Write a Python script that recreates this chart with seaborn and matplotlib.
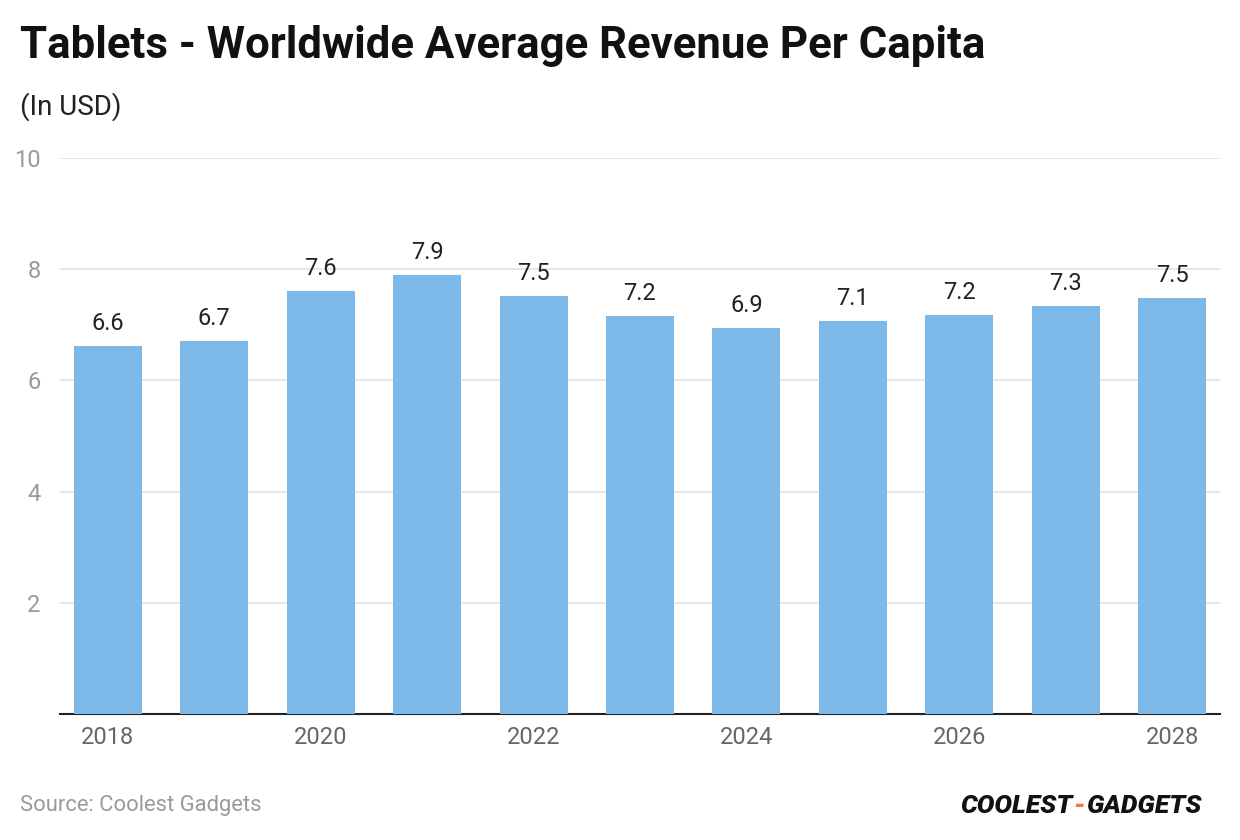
import matplotlib
matplotlib.use("Agg")
import matplotlib.pyplot as plt
import seaborn as sns
import pandas as pd

years = [2018, 2019, 2020, 2021, 2022, 2023, 2024, 2025, 2026, 2027, 2028]
values = [6.62, 6.71, 7.61, 7.90, 7.52, 7.16, 6.94, 7.07, 7.18, 7.34, 7.48]
labels = ["6.6", "6.7", "7.6", "7.9", "7.5", "7.2", "6.9", "7.1", "7.2", "7.3", "7.5"]
yticks = [2, 4, 6, 8, 10]

sns.set_theme(style="white")
plt.rcParams['font.family'] = ['Roboto', 'DejaVu Sans']

df = pd.DataFrame({"year": [str(y) for y in years], "value": values})

fig = plt.figure(figsize=(12.4, 8.4), dpi=100)
ax = fig.add_axes([60/1240, 1 - 714/840, 1160/1240, 556/840])

sns.barplot(data=df, x="year", y="value", color="#7db9e8", saturation=1,
            width=0.64, ax=ax, zorder=3, linewidth=0, edgecolor="none")

ax.set_ylim(0, 10)
ax.set_xlim(-0.45, len(years) - 0.55)
ax.set_yticks(yticks)
ax.set_yticklabels([str(t) for t in yticks])
ax.yaxis.grid(True, color="#e3e3e3", linewidth=1.2, zorder=0)
ax.set_axisbelow(True)
for s in ["top", "right", "left"]:
    ax.spines[s].set_visible(False)
ax.spines["bottom"].set_color("#222222")
ax.spines["bottom"].set_linewidth(1.5)
ax.tick_params(axis="y", length=0, pad=14, labelsize=17, labelcolor="#9a9a9a")
ax.tick_params(axis="x", length=0, pad=9, labelsize=17, labelcolor="#666666")
ax.set_xticks(range(len(years)))
ax.set_xticklabels([str(y) if i % 2 == 0 else "" for i, y in enumerate(years)])
ax.set_xlabel("")
ax.set_ylabel("")

for i, (v, lab) in enumerate(zip(values, labels)):
    ax.annotate(lab, (i, v), xytext=(0, 8), textcoords="offset points",
                ha="center", va="bottom", fontsize=17, color="#222222")

fig.text(20/1240, 1 - 46/840, "Tablets - Worldwide Average Revenue Per Capita",
         fontsize=31.5, fontweight="bold", color="#111111", va="center", ha="left")
fig.text(20/1240, 1 - 107/840, "(In USD)", fontsize=20, color="#222222",
         va="center", ha="left")
fig.text(20/1240, 1 - 806/840, "Source: Coolest Gadgets", fontsize=15.8,
         color="#9a9a9a", va="center", ha="left")

# logo
fig.canvas.draw()
r = fig.canvas.get_renderer()
x = 960
parts = [("COOLEST", "#111111"), ("-", "#f07a2e"), ("GADGETS", "#111111")]
for txt, col in parts:
    t = fig.text(x/1240, 1 - 806/840, txt, fontsize=19, fontweight="heavy",
                 fontstyle="italic", color=col, va="center", ha="left")
    bb = t.get_window_extent(renderer=r)
    x += bb.width + 1

fig.savefig("out.png", dpi=100)
